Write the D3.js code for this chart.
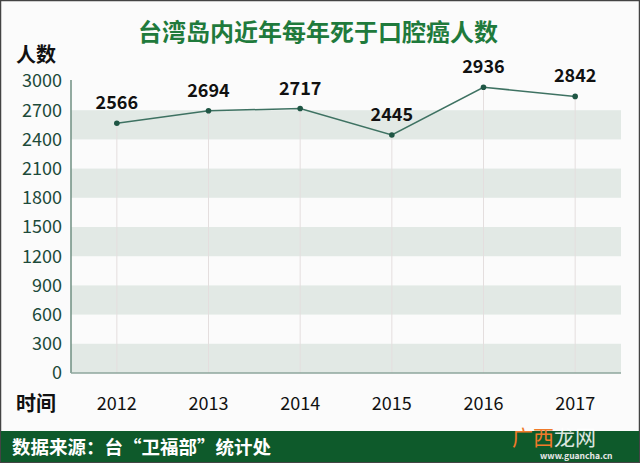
<!DOCTYPE html>
<html>
<head>
<meta charset="utf-8">
<script src="https://cdn.jsdelivr.net/npm/d3@7"></script>
<style>
  html, body { margin: 0; padding: 0; background: #fff; }
  svg { display: block; font-family: "Noto Sans CJK SC", "Noto Sans", sans-serif; }
</style>
</head>
<body>
<div id="chart"></div>
<script>
const years = ["2012", "2013", "2014", "2015", "2016", "2017"];
const deaths = [2566, 2694, 2717, 2445, 2936, 2842];
const yTicks = [0, 300, 600, 900, 1200, 1500, 1800, 2100, 2400, 2700, 3000];

const W = 640, H = 463;
const margin = {left: 71, right: 19, top: 81, bottom: 90};

const svg = d3.select("#chart").append("svg")
    .attr("width", W)
    .attr("height", H);

// page background + thin frame
svg.append("rect")
    .attr("x", 0.5).attr("y", 0.5)
    .attr("width", W - 1).attr("height", H - 1)
    .attr("fill", "#fbfbfb")
    .attr("stroke", "#444")
    .attr("stroke-width", 1.5);

const x = d3.scaleBand()
    .domain(years)
    .range([margin.left, W - margin.right]);

const y = d3.scaleLinear()
    .domain([0, 3000])
    .range([H - margin.bottom, margin.top]);

// shaded bands
const bands = yTicks.slice(0, -1).filter((d, i) => i % 2 === 0);
svg.append("g").selectAll("rect")
    .data(bands)
    .enter()
    .append("rect")
        .attr("x", margin.left)
        .attr("y", d => y(d + 300))
        .attr("width", W - margin.right - margin.left)
        .attr("height", d => y(d) - y(d + 300))
        .attr("fill", "#e2e9e5");

const data = years.map((yr, i) => ({yr, v: deaths[i]}));
const cx = d => x(d.yr) + x.bandwidth() / 2;

// vertical guide lines at each year
svg.append("g").selectAll("line")
    .data(data)
    .enter()
    .append("line")
        .attr("x1", cx)
        .attr("x2", cx)
        .attr("y1", d => y(d.v))
        .attr("y2", y(0))
        .attr("stroke", "#e4dede")
        .attr("stroke-width", 1);

// axis lines
svg.append("line")
    .attr("x1", margin.left).attr("x2", margin.left)
    .attr("y1", y(3000) - 1).attr("y2", y(0))
    .attr("stroke", "#6f8f82").attr("stroke-width", 1.5);
svg.append("line")
    .attr("x1", margin.left).attr("x2", W - margin.right)
    .attr("y1", y(0)).attr("y2", y(0))
    .attr("stroke", "#8ea69c").attr("stroke-width", 1.5);

// y tick labels
svg.append("g").selectAll("text")
    .data(yTicks)
    .enter()
    .append("text")
        .attr("x", 62)
        .attr("y", d => y(d))
        .attr("dy", "0.36em")
        .attr("text-anchor", "end")
        .attr("font-size", 18)
        .attr("fill", "#1d4a3a")
        .text(d => d);

// x tick labels
svg.append("g").selectAll("text")
    .data(years)
    .enter()
    .append("text")
        .attr("x", d => x(d) + x.bandwidth() / 2)
        .attr("y", 410)
        .attr("text-anchor", "middle")
        .attr("font-size", 18)
        .attr("fill", "#111")
        .text(d => d);

// line + points
const line = d3.line()
    .x(cx)
    .y(d => y(d.v));

svg.append("path")
    .datum(data)
    .attr("d", line)
    .attr("fill", "none")
    .attr("stroke", "#3e7262")
    .attr("stroke-width", 1.5);

svg.append("g").selectAll("circle")
    .data(data)
    .enter()
    .append("circle")
        .attr("cx", cx)
        .attr("cy", d => y(d.v))
        .attr("r", 2.8)
        .attr("fill", "#1f5644");

svg.append("g").selectAll("text")
    .data(data)
    .enter()
    .append("text")
        .attr("x", cx)
        .attr("y", d => y(d.v) - 14)
        .attr("text-anchor", "middle")
        .attr("font-size", 18)
        .attr("font-weight", "bold")
        .attr("fill", "#111")
        .text(d => d.v);

// title and axis names
svg.append("text")
    .attr("x", 318).attr("y", 41)
    .attr("text-anchor", "middle")
    .attr("font-size", 24)
    .attr("font-weight", "bold")
    .attr("fill", "#1f7a3c")
    .text("台湾岛内近年每年死于口腔癌人数");

svg.append("text")
    .attr("x", 16).attr("y", 62)
    .attr("font-size", 20)
    .attr("font-weight", "bold")
    .attr("fill", "#111")
    .text("人数");

svg.append("text")
    .attr("x", 16).attr("y", 411)
    .attr("font-size", 20)
    .attr("font-weight", "bold")
    .attr("fill", "#111")
    .text("时间");

// footer
svg.append("rect")
    .attr("x", 1).attr("y", 431)
    .attr("width", W - 2).attr("height", 31)
    .attr("fill", "#0e5a2b");

svg.append("text")
    .attr("x", 12).attr("y", 454)
    .attr("font-size", 18.5)
    .attr("font-weight", "bold")
    .attr("fill", "#fff")
    .text("数据来源：台“卫福部”统计处");

// watermark
svg.append("text")
    .attr("x", 512).attr("y", 445)
    .attr("font-size", 21)
    .attr("fill", "#f07a2a")
    .text("广西");
svg.append("text")
    .attr("x", 554).attr("y", 445)
    .attr("font-size", 21)
    .attr("fill", "#fff")
    .attr("opacity", 0.85)
    .text("龙网");
svg.append("text")
    .attr("x", 540).attr("y", 459)
    .attr("font-size", 8.5)
    .attr("font-weight", "bold")
    .attr("fill", "#e8e8e8")
    .text("www.guancha.cn");
</script>
</body>
</html>
